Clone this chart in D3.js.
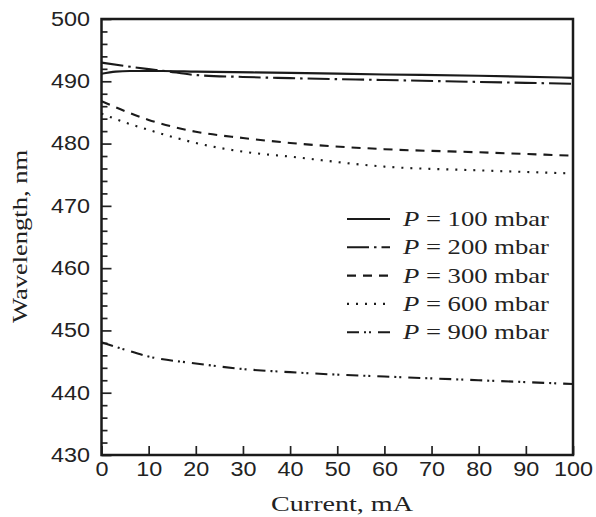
<!DOCTYPE html>
<html>
<head>
<meta charset="utf-8">
<script src="https://cdn.jsdelivr.net/npm/d3@7"></script>
<style>
  body { margin: 0; background: #fff; }
  svg { display: block; font-family: 'Liberation Serif', 'Times New Roman', serif; }
</style>
</head>
<body>
<svg id="chart" width="596" height="517"></svg>
<script>
// Values (current in mA, wavelength in nm).
const current100 = [0, 3, 6, 10, 13, 20, 40, 60, 80, 100];
const wave100 = [491.2, 491.55, 491.65, 491.65, 491.65, 491.55, 491.35, 491.1, 490.9, 490.55];

const current200 = [0, 5, 10, 13, 20, 30, 40, 60, 80, 100];
const wave200 = [493.0, 492.45, 491.95, 491.7, 491.0, 490.7, 490.5, 490.2, 489.9, 489.6];

const current300 = [0, 5, 10, 20, 30, 40, 60, 80, 100];
const wave300 = [486.8, 485.2, 483.8, 481.9, 480.9, 480.1, 479.1, 478.6, 478.05];

const current600 = [0, 5, 10, 20, 30, 40, 60, 80, 100];
const wave600 = [484.8, 483.4, 482.2, 480.1, 478.7, 477.9, 476.3, 475.7, 475.2];

const current900 = [0, 5, 10, 20, 30, 40, 50, 60, 80, 100];
const wave900 = [448.1, 446.9, 445.8, 444.7, 443.8, 443.3, 442.9, 442.6, 442.0, 441.4];

const legendLabels = ['100', '200', '300', '600', '900'];
const xTicks = [0, 10, 20, 30, 40, 50, 60, 70, 80, 90, 100];
const yTicks = [430, 440, 450, 460, 470, 480, 490, 500];

const series = [
  { label: legendLabels[0], x: current100, y: wave100, dash: null },
  { label: legendLabels[1], x: current200, y: wave200, dash: '22,5,2.5,5' },
  { label: legendLabels[2], x: current300, y: wave300, dash: '9,7' },
  { label: legendLabels[3], x: current600, y: wave600, dash: '2,7' },
  { label: legendLabels[4], x: current900, y: wave900, dash: '12,5,2,3,2,7' },
];

const svg = d3.select('#chart');
const box = { left: 101.5, right: 573, top: 19, bottom: 455 };

const x = d3.scaleLinear().domain([0, 100]).range([box.left, box.right]);
const y = d3.scaleLinear().domain([430, 500]).range([box.bottom, box.top]);

// Axes, ticks pointing inward.
const xAxis = svg.append('g')
  .attr('transform', `translate(0,${box.bottom})`)
  .call(d3.axisBottom(x).tickValues(xTicks).tickSize(-9).tickPadding(7));

const yAxis = svg.append('g')
  .attr('transform', `translate(${box.left},0)`)
  .call(d3.axisLeft(y).tickValues(yTicks).tickSize(-10).tickPadding(11.5));

// Minor ticks every 2 nm.
const minor = d3.range(432, 500, 2).filter((v) => v % 10 !== 0);
svg.append('g')
  .attr('transform', `translate(${box.left},0)`)
  .call(d3.axisLeft(y).tickValues(minor).tickSize(-6).tickFormat(''))
  .call((g) => g.select('.domain').remove());

[xAxis, yAxis].forEach((g) => {
  g.select('.domain').remove();
  g.selectAll('.tick text')
    .attr('fill', '#222')
    .style('font-size', '20px')
    .attr('lengthAdjust', 'spacingAndGlyphs')
    .attr('textLength', function () { return this.textContent.length * 13; });
});
svg.selectAll('.tick line').attr('stroke', '#222').attr('stroke-width', 1.7);

// Frame.
svg.append('rect')
  .attr('x', box.left)
  .attr('y', box.top)
  .attr('width', box.right - box.left)
  .attr('height', box.bottom - box.top)
  .attr('fill', 'none')
  .attr('stroke', '#1a1a1a')
  .attr('stroke-width', 2.5);

// Curves.
const line = d3.line()
  .x((d) => x(d[0]))
  .y((d) => y(d[1]))
  .curve(d3.curveMonotoneX);

series.forEach((s) => {
  svg.append('path')
    .datum(d3.zip(s.x, s.y))
    .attr('d', line)
    .attr('fill', 'none')
    .attr('stroke', '#1a1a1a')
    .attr('stroke-width', 2.1)
    .attr('stroke-dasharray', s.dash);
});

// Legend.
const legend = svg.append('g').attr('class', 'legend');
series.forEach((s, i) => {
  const base = 226 + i * 28.3;
  legend.append('line')
    .attr('x1', 347).attr('x2', 390)
    .attr('y1', base - 7).attr('y2', base - 7)
    .attr('stroke', '#1a1a1a')
    .attr('stroke-width', 2.1)
    .attr('stroke-dasharray', s.dash);

  const t = legend.append('text')
    .attr('x', 403)
    .attr('y', base)
    .attr('fill', '#222')
    .style('font-size', '21px')
    .attr('lengthAdjust', 'spacingAndGlyphs')
    .attr('textLength', 146);
  t.append('tspan').style('font-style', 'italic').text('P');
  t.append('tspan').text(` = ${s.label} mbar`);
});

// Axis titles.
svg.append('text')
  .attr('x', 342)
  .attr('y', 511)
  .attr('text-anchor', 'middle')
  .attr('fill', '#222')
  .style('font-size', '21px')
  .attr('lengthAdjust', 'spacingAndGlyphs')
  .attr('textLength', 142)
  .text('Current, mA');

svg.append('text')
  .attr('transform', 'translate(27,236.5) rotate(-90)')
  .attr('text-anchor', 'middle')
  .attr('fill', '#222')
  .style('font-size', '21px')
  .attr('lengthAdjust', 'spacingAndGlyphs')
  .attr('textLength', 173)
  .text('Wavelength, nm');
</script>
</body>
</html>
